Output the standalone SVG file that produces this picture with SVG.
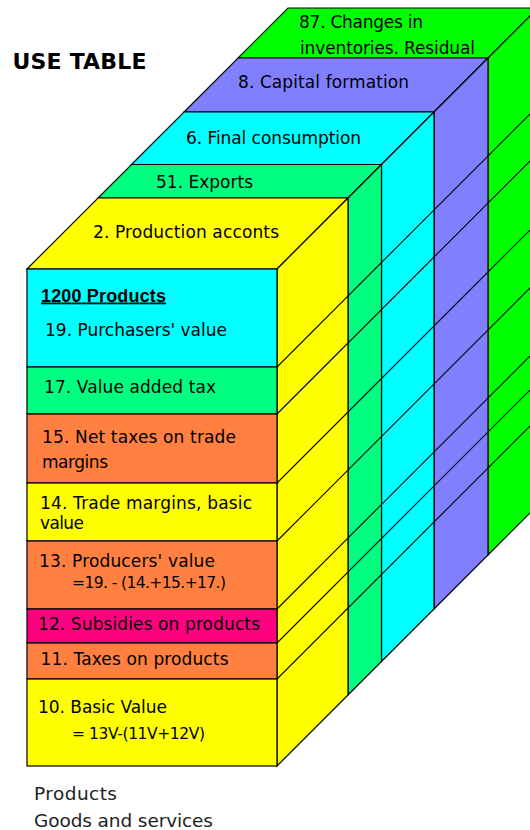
<svg xmlns="http://www.w3.org/2000/svg" width="530" height="830" viewBox="0 0 530 830">
<style>
.f{stroke:#000;stroke-width:1.2;stroke-linejoin:miter}
.yel{fill:#FFFF00}.grn{fill:#00FF80}.cyn{fill:#00FFFF}.pur{fill:#8080FF}.gr2{fill:#00FF00}.org{fill:#FF8040}.mag{fill:#FF0080}
.lbl{font-family:"DejaVu Sans","Liberation Sans",sans-serif;font-size:17px;fill:#000}
.frm{font-size:15.5px}
.ttl{font-family:"DejaVu Sans","Liberation Sans",sans-serif;font-size:22px;font-weight:bold;fill:#000}
.hd{font-family:"Liberation Sans","DejaVu Sans",sans-serif;font-size:18px;font-weight:bold;fill:#000;text-decoration:underline}
.bot{font-family:"DejaVu Sans","Liberation Sans",sans-serif;font-size:18.5px;fill:#222}
.dl{stroke:#000;stroke-width:1.1;fill:none}
</style>
<rect width="530" height="830" fill="#fff"/>
<g id="title"><text class="ttl" x="12.5" y="69" textLength="134">USE TABLE</text></g>

<g id="slab-87">
<polygon class="f gr2" points="238,58 488,58 538,8 288,8"/>
<polygon class="f gr2" points="488,58 538,8 538,505 488,555"/>
<text class="lbl" x="299" y="28" textLength="124">87. Changes in</text>
<text class="lbl" x="300" y="54" textLength="175">inventories. Residual</text>
</g>
<g id="slab-8">
<polygon class="f pur" points="184,112 434,112 488,58 238,58"/>
<polygon class="f pur" points="434,112 488,58 488,555 434,609"/>
<text class="lbl" x="238" y="88" textLength="171">8. Capital formation</text>
</g>
<g id="slab-6">
<polygon class="f cyn" points="131.5,164.5 381.5,164.5 434,112 184,112"/>
<polygon class="f cyn" points="381.5,164.5 434,112 434,609 381.5,661.5"/>
<text class="lbl" x="186" y="144" textLength="175">6. Final consumption</text>
</g>
<g id="slab-51">
<polygon class="f grn" points="98,198 348,198 381.5,164.5 131.5,164.5"/>
<polygon class="f grn" points="348,198 381.5,164.5 381.5,661.5 348,695"/>
<text class="lbl" x="156" y="188" textLength="97">51. Exports</text>
</g>
<g id="slab-2">
<polygon class="f yel" points="27,269 277,269 348,198 98,198"/>
<polygon class="f yel" points="277,269 348,198 348,695 277,766"/>
<text class="lbl" x="93" y="237.5" textLength="186">2. Production acconts</text>
</g>

<g id="side-lines">
<line class="dl" x1="277" y1="367" x2="538" y2="106"/>
<line class="dl" x1="277" y1="414" x2="538" y2="153"/>
<line class="dl" x1="277" y1="483" x2="538" y2="222"/>
<line class="dl" x1="277" y1="541" x2="538" y2="280"/>
<line class="dl" x1="277" y1="609" x2="538" y2="348"/>
<line class="dl" x1="277" y1="643" x2="538" y2="382"/>
<line class="dl" x1="277" y1="679" x2="538" y2="418"/>
</g>

<g id="front">
<g id="row-19">
<rect class="f cyn" x="27" y="269" width="250" height="98"/>
<text class="hd" x="41" y="301.5" textLength="125">1200 Products</text>
<text class="lbl" x="45" y="336" textLength="182">19. Purchasers' value</text>
</g>
<g id="row-17">
<rect class="f grn" x="27" y="367" width="250" height="47"/>
<text class="lbl" x="44" y="393" textLength="172">17. Value added tax</text>
</g>
<g id="row-15">
<rect class="f org" x="27" y="414" width="250" height="69"/>
<text class="lbl" x="42" y="443" textLength="194">15. Net taxes on trade</text>
<text class="lbl" x="42" y="468" textLength="66">margins</text>
</g>
<g id="row-14">
<rect class="f yel" x="27" y="483" width="250" height="58"/>
<text class="lbl" x="40" y="509" textLength="212">14. Trade margins, basic</text>
<text class="lbl" x="40" y="529" textLength="44">value</text>
</g>
<g id="row-13">
<rect class="f org" x="27" y="541" width="250" height="68"/>
<text class="lbl" x="39" y="566.5" textLength="176">13. Producers' value</text>
<text class="lbl frm" x="72" y="588" textLength="154">=19. - (14.+15.+17.)</text>
</g>
<g id="row-12">
<rect class="f mag" x="27" y="609" width="250" height="34"/>
<text class="lbl" x="38" y="630" textLength="222">12. Subsidies on products</text>
</g>
<g id="row-11">
<rect class="f org" x="27" y="643" width="250" height="36"/>
<text class="lbl" x="40.5" y="665" textLength="188">11. Taxes on products</text>
</g>
<g id="row-10">
<rect class="f yel" x="27" y="679" width="250" height="87"/>
<text class="lbl" x="38" y="713" textLength="129">10. Basic Value</text>
<text class="lbl frm" x="72" y="738.5" textLength="133">= 13V-(11V+12V)</text>
</g>
</g>

<g id="caption">
<text class="bot" x="34" y="800" textLength="83">Products</text>
<text class="bot" x="34" y="826.5" textLength="179">Goods and services</text>
</g>
</svg>
